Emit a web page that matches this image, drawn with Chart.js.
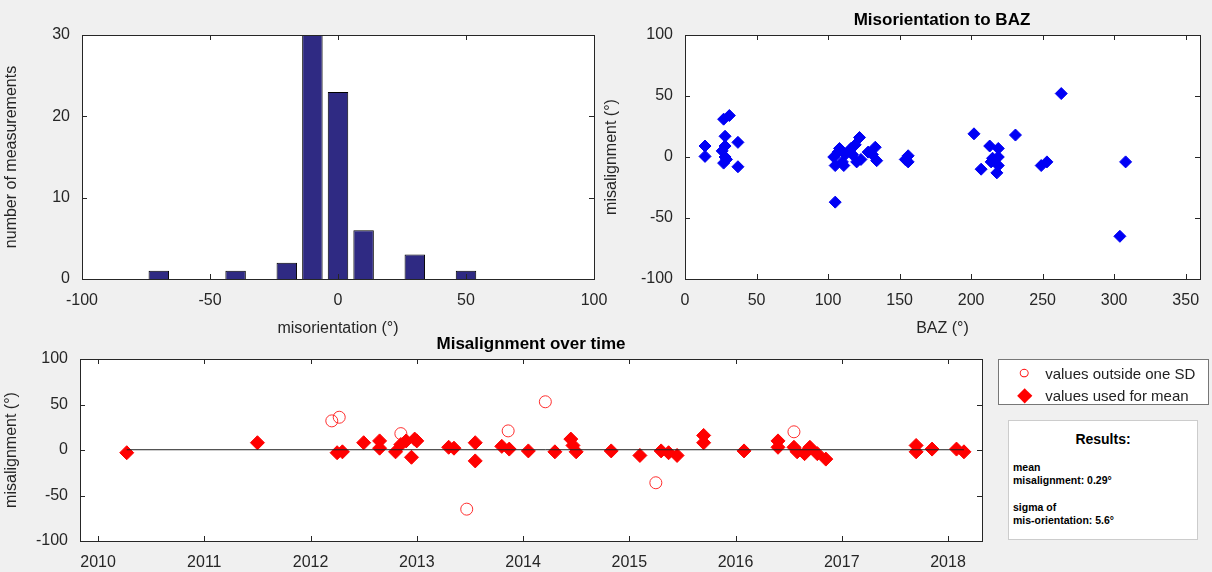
<!DOCTYPE html>
<html><head><meta charset="utf-8">
<script src="https://cdn.jsdelivr.net/npm/chart.js@4"></script>
<style>
body{margin:0;background:#f0f0f0;width:1212px;height:572px;overflow:hidden;position:relative;font-family:"Liberation Sans",Arial,sans-serif}
canvas{position:absolute}
.ttl{position:absolute;font-weight:bold;font-size:17px;color:#000;text-align:center}
#legend{position:absolute;left:998px;top:359px;width:211px;height:46px;background:#fff;border:1px solid #777;box-sizing:border-box;font-size:15px;color:#222}
#legend div{position:absolute;left:8px;white-space:nowrap}
#res{position:absolute;left:1008px;top:420px;width:190px;height:120px;background:#fff;border:1px solid #ccc;box-sizing:border-box;font-size:10.5px;font-weight:bold;color:#000}
</style></head><body>
<canvas id="hist" width="620" height="340" style="left:0;top:0"></canvas>
<canvas id="baz" width="620" height="340" style="left:600px;top:0"></canvas>
<canvas id="time" width="1000" height="242" style="left:0;top:330px"></canvas>
<div class="ttl" style="left:684px;width:516px;top:10px">Misorientation to BAZ</div>
<div class="ttl" style="left:80px;width:902px;top:334px">Misalignment over time</div>
<div id="legend">
 <div style="top:1px"><span style="color:#f00;display:inline-block;width:34px;text-align:center;font-size:20px">○</span> values outside one SD</div>
 <div style="top:22px"><span style="color:#f00;display:inline-block;width:34px;text-align:center;font-size:20px">◆</span> values used for mean</div>
</div>
<div id="res">
 <div style="text-align:center;font-size:14px;margin-top:10px">Results:</div>
 <div style="position:absolute;left:4px;top:40px;line-height:13px">mean<br>misalignment: 0.29°</div>
 <div style="position:absolute;left:4px;top:80px;line-height:13px">sigma of<br>mis-orientation: 5.6°</div>
</div>
<script>
// histogram
const binCenters = [-90,-80,-70,-60,-50,-40,-30,-20,-10,0,10,20,30,40,50,60,70,80,90];
const binCounts  = [0,0,1,0,0,1,0,2,30,23,6,0,3,0,1,0,0,0,0];

// misalignment vs back azimuth
const bazValues = [14,14,27,31,28,28,26,28,29,27,37,37,
  104,105,105,107,108,110,111,112,115,116,117,119,120,122,123,128,131,133,134,
  154,156,156,202,207,213,214,215,219,219,219,218,231,249,253,263,304,308];
const bazMisalign = [9,0.5,31,34,17,9,5,0,-2,-5,12,-8,
  0,-7,-37,4,7,-4,-7,2,5,7,2,10,-4,16,-2,4,2,8,-3,
  -2,1,-4,19,-10,9,-4,-1,7,0,-7,-13,18,-7,-4,52,-65,-4];
const bazTicks = [0,50,100,150,200,250,300,350];

// misalignment over time
const usedTimes = [2010.27,2011.5,2012.25,2012.3,2012.5,2012.65,2012.65,2012.8,2012.85,2012.9,2012.95,2012.98,2013.0,
  2013.3,2013.35,2013.55,2013.55,2013.8,2013.87,2014.05,2014.3,2014.45,2014.47,2014.5,2014.83,2015.1,2015.3,2015.37,2015.45,
  2015.7,2015.7,2016.08,2016.4,2016.4,2016.55,2016.58,2016.65,2016.7,2016.77,2016.85,2017.7,2017.7,2017.85,2018.08,2018.15];
const usedValues = [-3,8,-3,-2,8,10,2,-2,6,10,-8,12,10,
  3,2,8,-12,4,1,-1,-2,12,5,-2,-1,-6,-1,-3,-6,
  16,8,-1,10,3,3,-2,-4,3,-4,-10,5,-2,1,1,-2];
const outTimes = [2012.2,2012.27,2012.85,2013.47,2013.86,2014.21,2015.25,2016.55];
const outValues = [32,36,18,-65,21,53,-36,20];
const yearTicks = [2010,2011,2012,2013,2014,2015,2016,2017,2018];
const meanMisalign = 0.29;

Chart.defaults.font.family = '"Liberation Sans", Arial, sans-serif';
Chart.defaults.font.size = 16;
Chart.defaults.color = '#262626';
Chart.defaults.animation = false;

const matlabBox = {
  id: 'matlabBox',
  beforeDraw(c) {
    const a = c.chartArea, ctx = c.ctx;
    ctx.save(); ctx.fillStyle = '#fff';
    ctx.fillRect(a.left, a.top, a.right - a.left, a.bottom - a.top);
    ctx.restore();
  },
  afterDraw(c) {
    const a = c.chartArea, ctx = c.ctx;
    ctx.save();
    ctx.strokeStyle = '#262626'; ctx.lineWidth = 1;
    ctx.strokeRect(a.left + 0.5, a.top + 0.5, a.right - a.left, a.bottom - a.top);
    const x = c.scales.x, y = c.scales.y;
    ctx.beginPath();
    x.ticks.forEach(t => {
      const p = Math.round(x.getPixelForValue(t.value)) + 0.5;
      ctx.moveTo(p, a.bottom); ctx.lineTo(p, a.bottom - 5);
      ctx.moveTo(p, a.top); ctx.lineTo(p, a.top + 5);
    });
    y.ticks.forEach(t => {
      const p = Math.round(y.getPixelForValue(t.value)) + 0.5;
      ctx.moveTo(a.left, p); ctx.lineTo(a.left + 5, p);
      ctx.moveTo(a.right, p); ctx.lineTo(a.right - 5, p);
    });
    ctx.stroke();
    ctx.restore();
  }
};

function axis(min, max, step, title, fit, tickList) {
  const s = {
    type: 'linear', min: min, max: max, offset: false,
    ticks: { stepSize: step, padding: 4, color: '#262626', autoSkip: false, maxRotation: 0,
      callback: v => String(v) },
    grid: { display: false }, border: { display: false },
    title: { display: !!title, text: title, color: '#262626', font: { size: 16 }, padding: 2 },
    afterFit: fit
  };
  if (tickList) s.afterBuildTicks = sc => { sc.ticks = tickList.map(v => ({ value: v })); };
  return s;
}

new Chart(document.getElementById('hist'), {
  type: 'bar',
  data: { datasets: [{
    data: binCenters.map((c, i) => ({ x: c, y: binCounts[i] })),
    backgroundColor: '#2f2a83', borderColor: '#000', borderWidth: 1,
    barPercentage: 0.8, categoryPercentage: 1
  }] },
  options: {
    responsive: false,
    layout: { padding: { top: 35, right: 26, left: 0, bottom: 0 } },
    plugins: { legend: { display: false }, tooltip: { enabled: false } },
    scales: {
      x: axis(-100, 100, 50, 'misorientation (°)', s => { s.height = 61; }),
      y: axis(0, 30, 10, 'number of measurements', s => { s.width = 82; })
    }
  },
  plugins: [matlabBox]
});

new Chart(document.getElementById('baz'), {
  type: 'scatter',
  data: { datasets: [{
    data: bazValues.map((b, i) => ({ x: b, y: bazMisalign[i] })),
    pointStyle: 'rectRot', pointRadius: 6, backgroundColor: '#0000f5', borderColor: '#0000f5'
  }] },
  options: {
    responsive: false,
    layout: { padding: { top: 35, right: 20, left: 0, bottom: 0 } },
    plugins: { legend: { display: false }, tooltip: { enabled: false } },
    scales: {
      x: axis(0, 360, 50, 'BAZ (°)', s => { s.height = 61; }, bazTicks),
      y: axis(-100, 100, 50, 'misalignment (°)', s => { s.width = 85; })
    }
  },
  plugins: [matlabBox]
});

new Chart(document.getElementById('time'), {
  type: 'scatter',
  data: { datasets: [
    { type: 'line', data: [{ x: usedTimes[0], y: meanMisalign }, { x: usedTimes[usedTimes.length - 1], y: meanMisalign }],
      borderColor: '#222', borderWidth: 1, pointRadius: 0 },
    { data: usedTimes.map((t, i) => ({ x: t, y: usedValues[i] })),
      pointStyle: 'rectRot', pointRadius: 7, backgroundColor: '#ff0000', borderColor: '#ff0000' },
    { data: outTimes.map((t, i) => ({ x: t, y: outValues[i] })),
      pointStyle: 'circle', pointRadius: 6, backgroundColor: 'rgba(0,0,0,0)', borderColor: '#ff3030', borderWidth: 1 }
  ] },
  options: {
    responsive: false,
    layout: { padding: { top: 29, right: 18, left: 0, bottom: 0 } },
    plugins: { legend: { display: false }, tooltip: { enabled: false } },
    scales: {
      x: axis(2009.83, 2018.32, 1, '', s => { s.height = 31; }, yearTicks),
      y: axis(-100, 100, 50, 'misalignment (°)', s => { s.width = 80; })
    }
  },
  plugins: [matlabBox]
});
</script>
</body></html>
